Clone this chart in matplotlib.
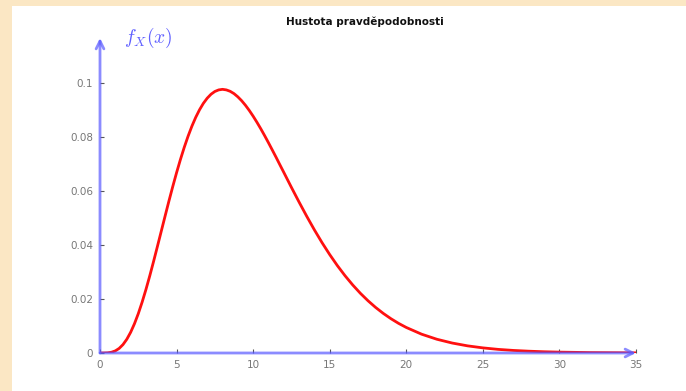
import matplotlib
matplotlib.use('Agg')
import matplotlib.pyplot as plt
from matplotlib.patches import Rectangle

plt.rcParams['mathtext.fontset'] = 'cm'

# values
x_vals = [0, 0.25, 0.5, 0.75, 1, 1.25, 1.5, 1.75, 2, 2.25, 2.5, 2.75, 3,
          3.25, 3.5, 3.75, 4, 4.25, 4.5, 4.75, 5, 5.25, 5.5, 5.75, 6, 6.25,
          6.5, 6.75, 7, 7.25, 7.5, 7.75, 8, 8.25, 8.5, 8.75, 9, 9.25, 9.5,
          9.75, 10, 10.25, 10.5, 10.75, 11, 11.25, 11.5, 11.75, 12, 12.5, 13,
          13.5, 14, 14.5, 15, 15.5, 16, 16.5, 17, 17.5, 18, 18.5, 19, 19.5,
          20, 21, 22, 23, 24, 25, 26, 27, 28, 29, 30, 32, 35]
pdf_vals = [0, 0.0000045, 0.00006, 0.00028, 0.00079, 0.0017, 0.00311, 0.00509,
            0.00766, 0.01084, 0.01457, 0.01883, 0.02353, 0.02860, 0.03396,
            0.03950, 0.04511, 0.05072, 0.05628, 0.06165, 0.06680, 0.07166,
            0.07617, 0.08030, 0.08402, 0.08730, 0.09012, 0.09250, 0.09440,
            0.09587, 0.09689, 0.09747, 0.09768, 0.09747, 0.09695, 0.09609,
            0.09490, 0.09346, 0.09176, 0.08984, 0.08773, 0.08546, 0.08306,
            0.08053, 0.07791, 0.07521, 0.07249, 0.06969, 0.06693, 0.06135,
            0.05591, 0.05064, 0.04561, 0.04087, 0.03646, 0.03237, 0.02863,
            0.02522, 0.02213, 0.01936, 0.01687, 0.01466, 0.01270, 0.01097,
            0.00946, 0.00697, 0.00509, 0.00369, 0.00265, 0.00190, 0.00134,
            0.00095, 0.00067, 0.00046, 0.00032, 0.00015, 0.00005]
x_ticks = [0, 5, 10, 15, 20, 25, 30, 35]
y_ticks = [0, 0.02, 0.04, 0.06, 0.08, 0.1]
y_tick_labels = ['0', '0.02', '0.04', '0.06', '0.08', '0.1']

W, H = 686, 391
fig = plt.figure(figsize=(W / 100, H / 100), dpi=100, facecolor='#fbe7c4')
fig.patches.append(Rectangle((12 / W, 0), 1 - 12 / W, 1 - 6 / H,
                             transform=fig.transFigure, facecolor='white',
                             edgecolor='none', zorder=-10))

ax = fig.add_axes([100 / W, (H - 353) / H, 536 / W, 315 / H])
ax.set_facecolor('none')
ax.set_xlim(0, 35)
ax.set_ylim(0, 0.1167)
for s in ax.spines.values():
    s.set_visible(False)

ax.plot(x_vals, pdf_vals, color='#ff1010', lw=2.0, zorder=2)

axis_col = '#5a5aff'
ax.annotate('', xy=(35, 0), xytext=(0, 0),
            arrowprops=dict(arrowstyle='->', color=axis_col, lw=2, alpha=0.7,
                            shrinkA=0, shrinkB=0, mutation_scale=14),
            zorder=3, annotation_clip=False)
ax.annotate('', xy=(0, 0.1167), xytext=(0, 0),
            arrowprops=dict(arrowstyle='->', color=axis_col, lw=2, alpha=0.7,
                            shrinkA=0, shrinkB=0, mutation_scale=14),
            zorder=3, annotation_clip=False)

ax.set_xticks(x_ticks)
ax.set_yticks(y_ticks)
ax.set_yticklabels(y_tick_labels)
ax.tick_params(direction='in', length=3, width=0.8, color='#555555',
               labelcolor='#777777', labelsize=7.5, pad=5)

ax.text(0.045, 1.0, r'$f_X(x)$', transform=ax.transAxes, color='#6060ff',
        fontsize=14, ha='left', va='center')
fig.text(365 / W, 1 - 22 / H, 'Hustota pravděpodobnosti', ha='center',
         va='center', fontsize=7.5, fontweight='bold', color='#111111')

fig.savefig('out.png', dpi=100, facecolor=fig.get_facecolor())
